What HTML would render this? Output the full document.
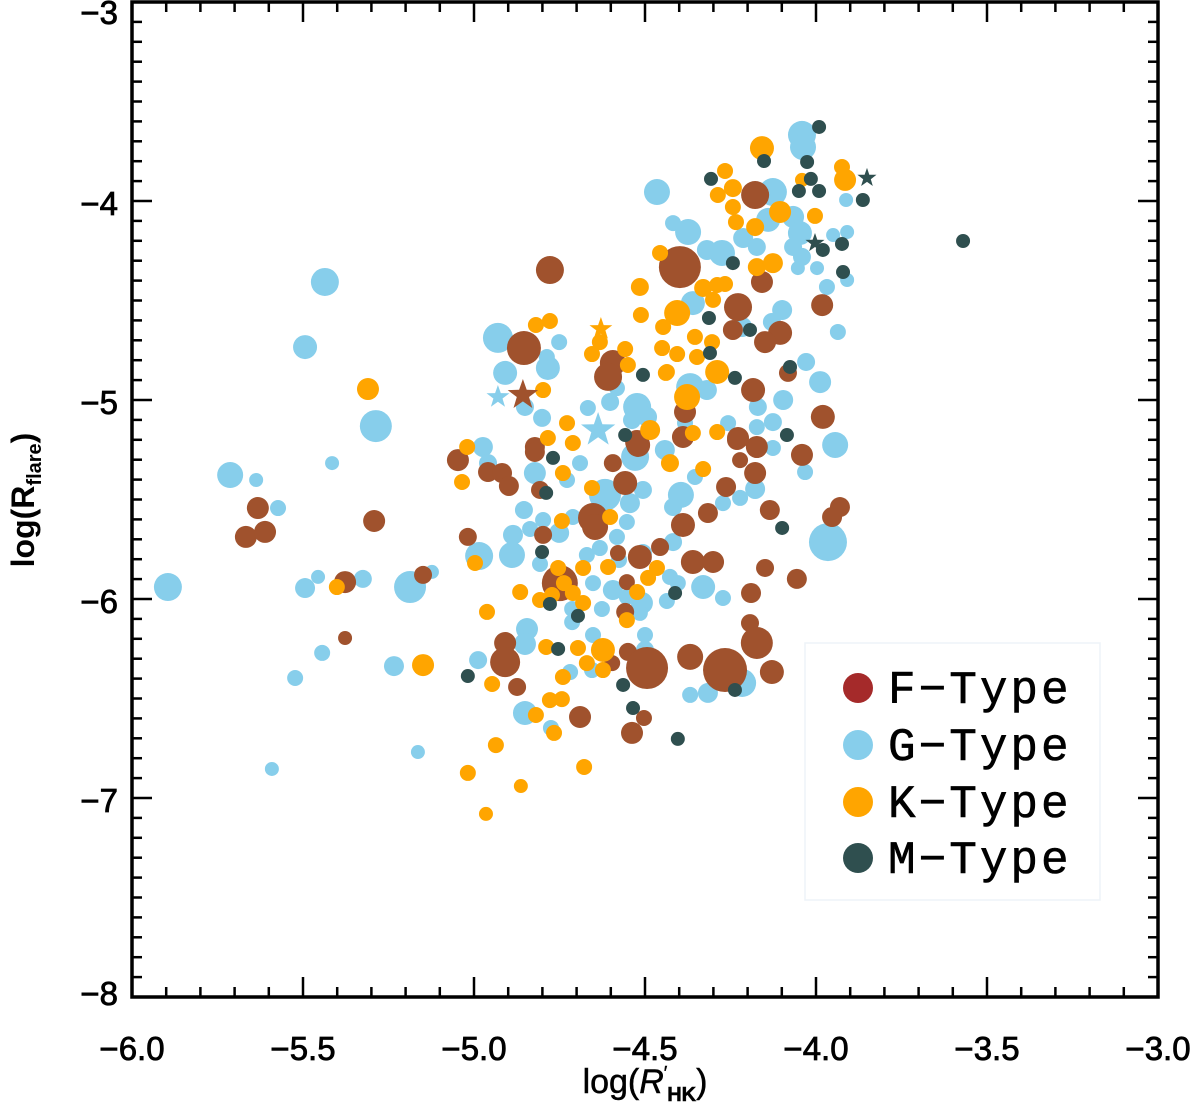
<!DOCTYPE html>
<html><head><meta charset="utf-8"><style>
html,body{margin:0;padding:0;background:#fff;}
svg{display:block;}
</style></head><body>
<svg id="chart" width="1200" height="1109" viewBox="0 0 1200 1109" xmlns="http://www.w3.org/2000/svg">
<g id="marks"></g>
<g id="axes"></g>
<g id="legend">
<rect x="805" y="643" width="295" height="257" fill="#fff" stroke="#eef3f8" stroke-width="1.5"/>
<g><circle cx="858" cy="688" r="15" fill="#A52A2A"/><text x="888" y="703" font-family="Liberation Mono, monospace" font-size="46" letter-spacing="3" stroke="#000" stroke-width="0.6">F−Type</text></g>
<g><circle cx="858" cy="745" r="15" fill="#87CEEB"/><text x="888" y="760" font-family="Liberation Mono, monospace" font-size="46" letter-spacing="3" stroke="#000" stroke-width="0.6">G−Type</text></g>
<g><circle cx="858" cy="802" r="15" fill="#FFA500"/><text x="888" y="817" font-family="Liberation Mono, monospace" font-size="46" letter-spacing="3" stroke="#000" stroke-width="0.6">K−Type</text></g>
<g><circle cx="858" cy="858" r="15" fill="#2F4F4F"/><text x="888" y="873" font-family="Liberation Mono, monospace" font-size="46" letter-spacing="3" stroke="#000" stroke-width="0.6">M−Type</text></g>
</g>
<text transform="translate(34,500) rotate(-90)" text-anchor="middle" font-family="Liberation Sans, sans-serif" font-weight="bold" font-size="32">log(R<tspan font-size="20" dy="7">flare</tspan><tspan dy="-7">)</tspan></text>
<text x="645" y="1093" text-anchor="middle" font-family="Liberation Sans, sans-serif" font-size="34" stroke="#000" stroke-width="0.5">log(<tspan font-style="italic">R</tspan><tspan font-size="18" dy="-14">′</tspan><tspan font-size="20" font-weight="bold" dy="22">HK</tspan><tspan dy="-8">)</tspan></text>
</svg>
<script>
const fX=[-5.632,-5.667,-5.611,-5.377,-5.292,-5.377,-5.149,-4.178,-4.158,-3.982,-4.778,-4.228,-4.243,-4.105,-4.149,-4.082,-4.184,-3.980,-4.383,-4.389,-4.228,-4.173,-4.854,-4.594,-4.608,-4.523,-4.822,-5.047,-4.959,-4.918,-4.898,-4.822,-4.807,-4.798,-5.018,-4.652,-4.646,-4.558,-4.520,-4.594,-4.231,-4.173,-4.041,-4.222,-4.178,-4.263,-4.389,-4.316,-4.135,-3.930,-3.953,-4.456,-4.515,-4.579,-4.553,-4.360,-4.301,-4.149,-4.056,-4.190,-4.749,-4.558,-4.909,-4.909,-4.874,-4.596,-4.550,-4.494,-4.368,-4.266,-4.193,-4.173,-4.129,-4.690,-4.503,-4.538,-4.398];
const fY=[-5.543,-5.688,-5.663,-5.915,-5.608,-6.196,-5.879,-3.970,-4.407,-4.523,-4.347,-4.533,-4.648,-4.663,-4.709,-4.864,-4.950,-5.085,-5.060,-5.186,-5.191,-5.236,-4.739,-4.814,-4.884,-5.211,-5.236,-5.302,-5.362,-5.367,-5.432,-5.261,-5.452,-5.678,-5.688,-5.593,-5.638,-5.417,-5.226,-5.317,-5.201,-5.241,-5.276,-5.302,-5.367,-5.437,-5.628,-5.568,-5.553,-5.538,-5.588,-5.739,-5.789,-5.769,-5.915,-5.814,-5.814,-5.844,-5.899,-5.970,-5.920,-6.065,-6.221,-6.317,-6.442,-6.322,-6.266,-6.347,-6.291,-6.357,-6.121,-6.221,-6.367,-6.593,-6.598,-6.673,-4.332];
const fR=[11,11,11,11,11,7,9,14,11,11,14,14,10,12,11,9,12,12,11,11,11,11,17,13,14,12,10,11,10,10,10,10,9,9,9,15,13,12,12,9,10,10,11,8,11,10,12,10,10,10,10,9,12,8,8,12,11,9,10,10,18,9,11,15,9,8,9,21,13,22,9,16,12,11,8,11,21];

const gX=[-5.436,-5.494,-5.287,-5.415,-5.713,-5.637,-5.573,-5.895,-5.456,-5.494,-5.325,-5.187,-5.444,-5.234,-5.523,-5.591,-5.164,-5.123,-4.041,-4.038,-4.465,-4.126,-3.912,-4.140,-4.067,-4.418,-4.374,-4.319,-4.275,-4.213,-4.173,-4.047,-4.067,-4.041,-3.950,-3.909,-4.053,-3.997,-3.968,-3.909,-4.360,-4.237,-4.216,-4.099,-4.129,-3.936,-4.029,-3.988,-4.170,-4.096,-4.126,-3.944,-4.368,-4.319,-4.383,-4.257,-4.173,-4.930,-4.909,-4.784,-4.787,-4.751,-4.851,-4.801,-4.667,-4.582,-4.602,-4.523,-4.494,-4.538,-4.974,-4.959,-4.822,-4.728,-4.690,-4.854,-4.798,-4.711,-4.836,-4.751,-4.886,-4.985,-4.889,-4.807,-4.617,-4.544,-4.553,-4.582,-4.632,-4.670,-4.529,-4.506,-4.442,-4.354,-4.126,-4.032,-4.178,-4.222,-4.272,-4.395,-4.418,-3.965,-4.418,-4.506,-4.576,-4.427,-4.404,-4.330,-4.272,-4.436,-4.652,-4.594,-4.553,-4.509,-4.515,-4.626,-4.713,-4.713,-4.845,-4.851,-4.988,-4.655,-4.719,-4.652,-4.500,-4.500,-4.216,-4.316,-4.368,-4.851,-4.775];
const gY=[-4.407,-4.734,-5.131,-5.317,-5.377,-5.402,-5.543,-5.940,-5.889,-5.945,-5.899,-5.940,-6.271,-6.337,-6.397,-6.854,-6.769,-5.864,-3.668,-3.729,-3.955,-3.955,-3.995,-4.095,-4.080,-4.111,-4.156,-4.246,-4.261,-4.186,-4.231,-4.161,-4.231,-4.281,-4.171,-4.156,-4.337,-4.337,-4.432,-4.397,-4.513,-4.538,-4.633,-4.548,-4.608,-4.658,-4.809,-4.910,-5.035,-5.000,-5.111,-5.226,-4.935,-4.950,-5.116,-5.116,-5.136,-4.688,-4.864,-4.839,-4.784,-4.709,-5.035,-5.090,-5.040,-4.940,-5.010,-5.035,-5.085,-5.101,-5.236,-5.317,-5.367,-5.402,-5.317,-5.553,-5.603,-5.588,-5.648,-5.668,-5.678,-5.784,-5.779,-5.824,-5.477,-5.518,-5.613,-5.688,-5.744,-5.779,-5.286,-5.452,-5.251,-5.387,-5.241,-5.362,-5.447,-5.492,-5.518,-5.477,-5.538,-5.714,-5.714,-5.769,-5.804,-5.889,-5.920,-5.940,-5.995,-6.010,-5.920,-5.955,-5.990,-6.020,-6.070,-6.050,-6.050,-6.116,-6.151,-6.226,-6.307,-6.357,-6.367,-6.181,-6.181,-6.256,-6.422,-6.472,-6.482,-6.573,-6.648];
const gR=[14,12,16,7,13,7,8,14,7,10,9,16,8,10,8,7,7,7,14,13,13,14,7,12,11,8,13,10,13,10,9,12,9,9,7,7,7,7,8,7,12,8,10,10,9,8,9,11,9,10,9,13,14,10,8,8,8,15,12,12,8,8,9,9,8,8,9,14,10,9,10,9,11,8,8,9,8,8,8,10,10,14,13,8,16,10,8,8,8,8,14,9,10,8,8,8,10,8,8,13,9,19,9,9,8,8,8,12,8,8,8,10,8,11,8,8,8,8,11,11,9,8,8,8,8,9,14,10,8,12,8];

const kX=[-5.310,-5.401,-5.149,-4.158,-4.266,-3.924,-3.915,-4.041,-4.243,-4.287,-4.243,-4.234,-4.178,-4.105,-4.003,-4.456,-4.173,-4.126,-4.515,-4.512,-4.406,-4.447,-4.330,-4.289,-4.266,-4.301,-4.289,-4.348,-4.406,-4.450,-4.439,-4.304,-4.354,-4.377,-4.360,-4.289,-4.819,-4.778,-4.632,-4.655,-4.558,-4.550,-4.436,-4.798,-4.728,-4.485,-4.784,-4.711,-5.020,-5.035,-4.740,-4.743,-4.997,-4.655,-4.602,-4.427,-4.330,-4.608,-4.465,-4.491,-4.523,-4.737,-4.772,-4.711,-4.681,-4.754,-4.681,-4.553,-4.807,-4.865,-4.962,-4.789,-4.696,-4.670,-4.740,-4.623,-4.623,-4.947,-4.819,-4.778,-4.743,-4.766,-4.936,-5.018,-4.678,-4.863,-4.965];
const kY=[-4.945,-5.940,-6.332,-3.734,-3.849,-3.829,-3.894,-3.894,-3.935,-3.970,-4.030,-4.106,-4.131,-4.055,-4.075,-4.261,-4.332,-4.312,-4.432,-4.573,-4.563,-4.633,-4.437,-4.422,-4.417,-4.497,-4.859,-4.784,-4.769,-4.739,-4.864,-4.709,-4.683,-4.985,-5.166,-5.161,-4.623,-4.603,-4.709,-4.769,-4.744,-4.824,-4.859,-4.950,-5.116,-5.151,-5.191,-5.216,-5.236,-5.412,-5.367,-5.608,-5.819,-5.442,-5.588,-5.317,-5.347,-5.839,-5.844,-5.894,-5.965,-5.920,-5.980,-5.970,-6.020,-5.844,-5.844,-6.106,-6.005,-5.965,-6.065,-6.241,-6.246,-6.322,-6.392,-6.256,-6.357,-6.427,-6.583,-6.508,-6.503,-6.673,-6.734,-6.874,-6.844,-6.940,-7.080];
const kR=[11,8,11,12,8,8,11,7,9,8,8,8,9,11,8,8,9,10,9,8,13,8,9,8,8,8,12,8,8,8,8,8,8,13,8,8,8,8,8,8,8,8,8,8,8,10,8,8,8,8,8,8,8,8,8,9,8,8,8,8,8,8,8,8,8,8,8,8,8,8,8,8,8,8,8,12,8,8,8,8,8,8,8,8,8,7,7];

const mX=[-3.991,-4.152,-4.026,-4.307,-3.863,-4.015,-4.050,-3.991,-4.243,-4.313,-4.193,-4.076,-4.237,-4.310,-4.085,-3.980,-3.924,-3.921,-4.506,-4.558,-4.769,-4.789,-4.801,-4.099,-4.412,-4.696,-4.778,-5.018,-4.754,-4.564,-4.237,-4.535,-4.404,-3.570];
const mY=[-3.628,-3.799,-3.804,-3.889,-3.995,-3.889,-3.950,-3.950,-4.312,-4.588,-4.648,-4.834,-4.889,-4.764,-5.176,-4.246,-4.216,-4.357,-4.874,-5.176,-5.291,-5.467,-5.764,-5.643,-5.970,-6.085,-6.025,-6.387,-6.251,-6.432,-6.457,-6.548,-6.703,-4.201];
const mR=[7,7,7,7,7,7,7,7,7,7,7,7,7,7,7,7,7,7,7,7,7,7,7,7,7,7,7,7,7,7,7,7,7,7];

const starX=[-4.857,-4.930,-4.637,-4.629,-3.851,-4.003];
const starY=[-4.975,-4.985,-5.151,-4.643,-3.884,-4.211];
const starT=["F","G","G","K","M","M"];
const starR=[16,12,18,12,10,10];

const xTicks=["−6.0","−5.5","−5.0","−4.5","−4.0","−3.5","−3.0"];
const yTicks=["−3","−4","−5","−6","−7","−8"];

const NS="http://www.w3.org/2000/svg";
const L=132,R=1158,T=2,B=997;
function sx(v){return L+(v+6)/3*(R-L);}
function sy(v){return T+(-3-v)/5*(B-T);}
const colors={F:"#A0522D",G:"#87CEEB",K:"#FFA500",M:"#2F4F4F"};
const marks=document.getElementById('marks');
function dot(x,y,r,t,i){
  const c=document.createElementNS(NS,'circle');
  c.setAttribute('cx',sx(x));c.setAttribute('cy',sy(y));c.setAttribute('r',r);c.setAttribute('fill',colors[t]);
  
  
  marks.appendChild(c);
}
gX.forEach((v,i)=>dot(v,gY[i],gR[i],'G',i));
fX.forEach((v,i)=>dot(v,fY[i],fR[i],'F',i));
kX.forEach((v,i)=>dot(v,kY[i],kR[i],'K',i));
mX.forEach((v,i)=>dot(v,mY[i],mR[i],'M',i));
starX.forEach((v,i)=>{
  const cx=sx(v),cy=sy(starY[i]),r=starR[i];let pts=[];
  for(let k=0;k<10;k++){const a=-Math.PI/2+k*Math.PI/5;const rr=k%2?r*0.4:r;pts.push((cx+rr*Math.cos(a)).toFixed(1)+','+(cy+rr*Math.sin(a)).toFixed(1));}
  const p=document.createElementNS(NS,'polygon');
  p.setAttribute('points',pts.join(' '));p.setAttribute('fill',colors[starT[i]]);
  
  
  marks.appendChild(p);
});
const axes=document.getElementById('axes');
function line(x1,y1,x2,y2,w,name){
  const l=document.createElementNS(NS,'line');
  l.setAttribute('x1',x1);l.setAttribute('y1',y1);l.setAttribute('x2',x2);l.setAttribute('y2',y2);
  l.setAttribute('stroke','#000');l.setAttribute('stroke-width',w);
  
  
  axes.appendChild(l);
}
function txt(x,y,s,anchor,name){
  const t=document.createElementNS(NS,'text');
  t.setAttribute('x',x);t.setAttribute('y',y);t.setAttribute('text-anchor',anchor);
  t.setAttribute('font-family','Liberation Sans, sans-serif');t.setAttribute('font-size','33');
  t.setAttribute('stroke','#000');t.setAttribute('stroke-width','0.8');
  t.textContent=s;
  
  
  axes.appendChild(t);
}
for(let k=0;k<=30;k++){
  const v=-6+k*0.1;const x=sx(v);const len=(k%5===0)?20:10;
  line(x,B,x,B-len,2.5,'x-tick');line(x,T,x,T+len,2.5,'x-tick-top');
}
for(let k=0;k<=50;k++){
  const v=-3-k*0.1;const y=sy(v);const len=(k%10===0)?20:10;
  line(L,y,L+len,y,2.5,'y-tick');line(R,y,R-len,y,2.5,'y-tick-right');
}
xTicks.forEach((s,i)=>txt(sx(-6+i*0.5),1060,s,'middle','x-tick-label'));
yTicks.forEach((s,i)=>txt(L-14,sy(-3-i)+14+(i===0?8:0)-(i===5?6:0),s,'end','y-tick-label'));
const box=document.createElementNS(NS,'rect');
box.setAttribute('x',L);box.setAttribute('y',T);box.setAttribute('width',R-L);box.setAttribute('height',B-T);
box.setAttribute('fill','none');box.setAttribute('stroke','#000');box.setAttribute('stroke-width','3.5');


axes.appendChild(box);
</script>
</body></html>
